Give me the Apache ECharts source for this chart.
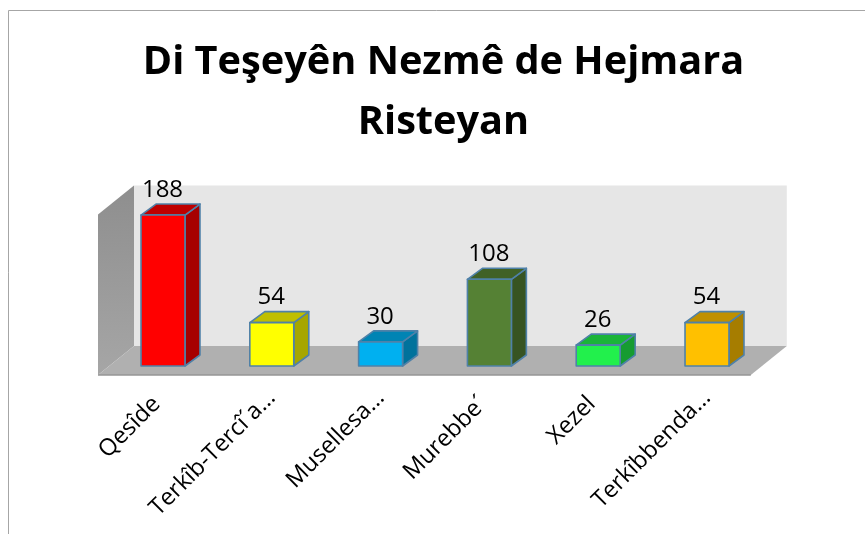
<!DOCTYPE html>
<html><head><meta charset="utf-8">
<style>html,body{margin:0;padding:0;background:#fff}#c{width:865px;height:534px}</style>
<script src="https://cdn.jsdelivr.net/npm/echarts@6/dist/echarts.min.js"></script>
</head><body><div id="c"></div>
<script>
const titleText = 'Di Teşeyên Nezmê de Hejmara\nRisteyan';
const categories = ['Qesîde', 'Terkîb-Tercî´a…', 'Musellesa…', 'Murebbe´', 'Xezel', 'Terkîbbenda…'];
const values = [188, 54, 30, 108, 26, 54];
const barColors = ['#FF0000', '#FFFF00', '#00B0F0', '#558134', '#22F04C', '#FFC000'];

const FONT = '"Open Sans", "Noto Sans", sans-serif';
const BAR_DX = 15, BAR_DY = -11;
const shade = (hex, k) => {
  const n = parseInt(hex.slice(1), 16);
  return `rgb(${Math.round((n >> 16 & 255) * k)},${Math.round((n >> 8 & 255) * k)},${Math.round((n & 255) * k)})`;
};
const poly = (points, fill, stroke, lineWidth) => ({
  type: 'polygon', shape: { points },
  style: { fill, stroke: stroke || 'none', lineWidth: lineWidth || 0, lineJoin: 'round' }
});

function renderWalls(params) {
  const g = params.coordSys;
  const L = g.x, R = g.x + g.width, T = g.y, B = g.y + g.height;
  const fx = -10.6, fy = 9, bx = 25.4, by = -20;
  return { type: 'group', silent: true, children: [
    poly([[L + bx, T + by], [R + bx, T + by], [R + bx, B + by], [L + bx, B + by]], '#E6E6E6'),
    poly([[L + fx, T + fy], [L + bx, T + by], [L + bx, B + by], [L + fx, B + fy]], {
      type: 'linear', x: 0, y: 0, x2: 0, y2: 1,
      colorStops: [{ offset: 0, color: '#8E8E8E' }, { offset: 1, color: '#A6A6A6' }]
    }),
    poly([[L + fx, B + fy], [L + bx, B + by], [R + bx, B + by], [R + fx, B + fy]], '#B0B0B0'),
    { type: 'line', shape: { x1: L + fx, y1: B + fy, x2: R + fx, y2: B + fy },
      style: { stroke: '#969696', lineWidth: 1.5 } }
  ] };
}

function renderBar(params, api) {
  const i = params.dataIndex;
  const top = api.coord([api.value(0), api.value(1)]);
  const base = api.coord([api.value(0), 0]);
  const w = api.size([1, 0])[0] * 0.404;
  const x0 = top[0] - w / 2, x1 = top[0] + w / 2;
  const c = barColors[i], edge = '#4F81A8', lw = 1.6;
  return { type: 'group', children: [
    poly([[x1, top[1]], [x1 + BAR_DX, top[1] + BAR_DY], [x1 + BAR_DX, base[1] + BAR_DY], [x1, base[1]]], shade(c, 0.65), edge, lw),
    poly([[x0, top[1]], [x0 + BAR_DX, top[1] + BAR_DY], [x1 + BAR_DX, top[1] + BAR_DY], [x1, top[1]]], shade(c, 0.75), edge, lw),
    poly([[x0, top[1]], [x1, top[1]], [x1, base[1]], [x0, base[1]]], c, edge, lw),
    { type: 'text', style: { x: top[0] - 0.5, y: top[1] - 25, text: String(api.value(1)), fill: '#000',
      font: '24px ' + FONT, textAlign: 'center', textVerticalAlign: 'middle' } }
  ] };
}

const chart = echarts.init(document.getElementById('c'), null, { renderer: 'canvas' });
chart.setOption({
  animation: false,
  backgroundColor: '#fff',
  title: { text: titleText, left: 438.5, top: 28, textAlign: 'center',
    textStyle: { fontFamily: FONT, fontWeight: 'bold', fontSize: 39.7, lineHeight: 60, color: '#000' } },
  graphic: [
    { type: 'polyline', shape: { points: [[8.5, 534], [8.5, 10.5], [865, 10.5]] }, silent: true,
      style: { stroke: '#A6A6A6', lineWidth: 1, fill: 'none' } }
  ],
  grid: { left: 108.6, top: 205.4, width: 652.8, height: 160.6, containLabel: false },
  xAxis: { type: 'category', data: categories,
    axisLine: { show: false }, axisTick: { show: false }, splitLine: { show: false },
    axisLabel: { rotate: 45, interval: 0, margin: 28, fontFamily: FONT, fontSize: 23.5, color: '#000', hideOverlap: false,
      formatter: (v) => v.endsWith('…') ? v : '{full|' + v + '}',
      rich: { full: { fontFamily: FONT, fontSize: 23.5, color: '#000', padding: [0, 9, 0, 0] } } } },
  yAxis: { type: 'value', min: 0, max: 200, show: false },
  series: [
    { type: 'custom', silent: true, z: 1, data: [[0, 0]], renderItem: renderWalls, encode: { x: 0, y: 1 } },
    { type: 'custom', z: 2, data: values.map((v, i) => [i, v]), renderItem: renderBar, encode: { x: 0, y: 1 } }
  ]
});
</script></body></html>
